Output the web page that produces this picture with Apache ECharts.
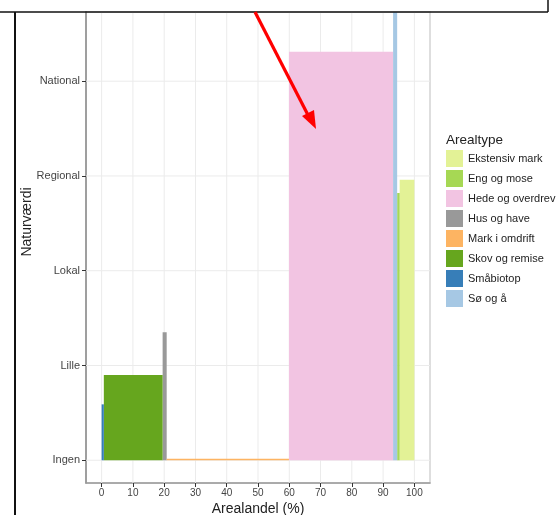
<!DOCTYPE html>
<html><head><meta charset="utf-8">
<script src="https://cdn.jsdelivr.net/npm/echarts@6/dist/echarts.min.js"></script>
<style>html,body{margin:0;padding:0;background:#fff}#c{width:559px;height:515px}</style>
</head><body><div id="c"></div>
<script>
// ---- data ----
const arealtyper = ['Ekstensiv mark','Eng og mose','Hede og overdrev','Hus og have','Mark i omdrift','Skov og remise','Småbiotop','Sø og å'];
const farver     = ['#e3f296','#a6d854','#f2c4e2','#999999','#fdb462','#66a61e','#377eb8','#a6c8e4'];
const andelStart = [95.3, 94.5, 59.9, 19.5, 20.8, 0.7, 0.0, 93.2];
const andelSlut  = [100.0, 95.3, 93.2, 20.8, 59.9, 19.5, 0.7, 94.5];
const naturvaerdi= [2.96, 2.82, 4.31, 1.35, 0.015, 0.90, 0.59, 5.0];
const xTicks = [0,10,20,30,40,50,60,70,80,90,100];
const yTicks = [0,1,2,3,4];
const yLabels = ['Ingen','Lille','Lokal','Regional','National'];

const chart = echarts.init(document.getElementById('c'), null, {renderer:'canvas'});
const FONT = 'Liberation Sans, Arial, sans-serif';

function rectRender(params, api){
  const x0 = api.value(0), x1 = api.value(1), h = api.value(2);
  const p0 = api.coord([x0, 0]), p1 = api.coord([x1, h]);
  const cs = params.coordSys;
  const shape = echarts.graphic.clipRectByRect(
    {x: p0[0], y: p1[1], width: p1[0]-p0[0], height: p0[1]-p1[1]},
    {x: cs.x, y: cs.y, width: cs.width, height: cs.height});
  return shape && {type:'rect', shape, style:{fill: api.visual('color')}};
}

const series = [
  {type:'custom', name:'_gx', silent:true, z:1, data:xTicks.map(v=>[v]),
   renderItem:(params, api)=>{const cs=params.coordSys; const x=api.coord([api.value(0),0])[0];
     return {type:'line', shape:{x1:x,y1:cs.y,x2:x,y2:cs.y+cs.height}, style:{stroke:'#ebebeb', lineWidth:1}};}},
  {type:'custom', name:'_gy', silent:true, z:1, data:yTicks.map(v=>[0,v]),
   renderItem:(params, api)=>{const cs=params.coordSys; const y=api.coord([0,api.value(1)])[1];
     return {type:'line', shape:{x1:cs.x,y1:y,x2:cs.x+cs.width,y2:y}, style:{stroke:'#ebebeb', lineWidth:1}};}}
];
arealtyper.forEach((n,i)=>{
  series.push({type:'custom', name:n, z:2, itemStyle:{color:farver[i]},
    data:[[andelStart[i], andelSlut[i], naturvaerdi[i]]], renderItem: rectRender});
});

const option = {
  animation:false,
  grid:{left:86, right:129, top:12, bottom:32, show:true, borderColor:'#d4d4d4', borderWidth:1.5, backgroundColor:'#fff'},
  xAxis:{type:'value', min:-5, max:105,
    axisLine:{show:true, onZero:false, lineStyle:{color:'#9a9a9a', width:1.5}},
    axisTick:{show:true, length:4, customValues:xTicks, lineStyle:{color:'#333'}},
    axisLabel:{customValues:xTicks, color:'#444', fontSize:10, fontFamily:FONT, margin:5},
    splitLine:{show:false}},
  yAxis:{type:'value', min:-0.24, max:4.73,
    axisLine:{show:true, onZero:false, lineStyle:{color:'#8a8a8a', width:1.5}},
    axisTick:{show:true, length:4, customValues:yTicks, lineStyle:{color:'#333'}},
    axisLabel:{customValues:yTicks, color:'#444', fontSize:11, fontFamily:FONT, margin:6,
      formatter:(v)=>yLabels[Math.round(v)]},
    splitLine:{show:false}},
  legend:{orient:'vertical', left:441, top:145, itemWidth:17, itemHeight:17, itemGap:3,
    icon:'rect', data:arealtyper, selectedMode:false,
    textStyle:{fontSize:11, color:'#222', fontFamily:FONT}},
  series,
  graphic:[
    {type:'text', x:446, y:140, style:{text:'Arealtype', fontSize:13.5, fill:'#222', fontFamily:FONT, verticalAlign:'middle'}},
    {type:'text', x:258, y:509, style:{text:'Arealandel (%)', fontSize:14, fill:'#222', fontFamily:FONT, align:'center', verticalAlign:'middle'}},
    {type:'text', x:27, y:222, rotation:Math.PI/2, style:{text:'Naturværdi', fontSize:14, fill:'#222', fontFamily:FONT, align:'center', verticalAlign:'middle'}},
    {type:'line', shape:{x1:0,y1:12,x2:548,y2:12}, style:{stroke:'#111', lineWidth:1.5}, z:100},
    {type:'line', shape:{x1:548,y1:0,x2:548,y2:12}, style:{stroke:'#111', lineWidth:1.5}, z:100},
    {type:'line', shape:{x1:15,y1:12,x2:15,y2:515}, style:{stroke:'#111', lineWidth:2}, z:100},
    {type:'line', shape:{x1:255,y1:12,x2:309,y2:117}, style:{stroke:'#ff0000', lineWidth:3.2}, z:100},
    {type:'polygon', shape:{points:[[316,129],[302,116],[314,110]]}, style:{fill:'#ff0000'}, z:100}
  ]
};
chart.setOption(option);
</script></body></html>
